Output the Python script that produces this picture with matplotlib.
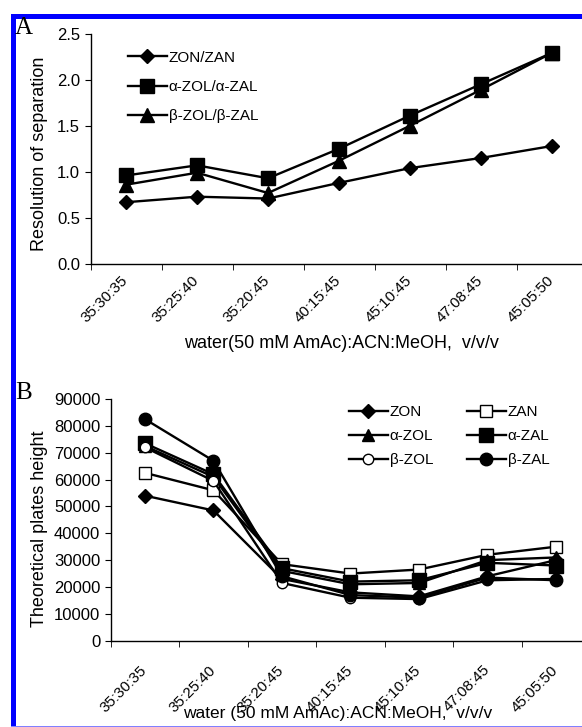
import matplotlib
matplotlib.use("Agg")
import matplotlib.pyplot as plt
from matplotlib.patches import Rectangle
from matplotlib.transforms import ScaledTranslation
import numpy as np

plt.rcParams['font.family'] = ['Liberation Sans', 'DejaVu Sans']

# mobile phase compositions, water(50 mM AmAc):ACN:MeOH
compositions = ["35:30:35", "35:25:40", "35:20:45", "40:15:45",
                "45:10:45", "47:08:45", "45:05:50"]

# panel A - resolution of separation
rs_zon_zan = [0.67, 0.73, 0.71, 0.88, 1.04, 1.15, 1.28]
rs_azol_azal = [0.96, 1.07, 0.93, 1.25, 1.61, 1.95, 2.29]
rs_bzol_bzal = [0.86, 0.99, 0.77, 1.12, 1.50, 1.89, 2.29]

# panel B - theoretical plates
n_zon = [54000, 48500, 23000, 18000, 16500, 24000, 30000]
n_zan = [62500, 56000, 28500, 25000, 26500, 32000, 35000]
n_azol = [72500, 61000, 26000, 21000, 21500, 30000, 31000]
n_azal = [73500, 62000, 27000, 22000, 22500, 29000, 28000]
n_bzol = [72000, 59500, 21500, 16000, 15500, 22500, 23000]
n_bzal = [82500, 67000, 24000, 17000, 16000, 23500, 22500]

W, H = 582, 727
fig = plt.figure(figsize=(W / 100, H / 100), dpi=100)
x = np.arange(len(compositions))


def style_axes(ax, pad, dx):
    ax.spines['top'].set_visible(False)
    ax.spines['right'].set_visible(False)
    ax.spines['left'].set_linewidth(1.0)
    ax.spines['bottom'].set_linewidth(1.0)
    ax.set_xlim(-0.5, len(compositions) - 0.5)
    ax.set_xticks(x)
    ax.set_xticklabels(compositions, rotation=45, ha='right', va='center',
                       rotation_mode='anchor', fontsize=11)
    shift = ScaledTranslation(dx / 72, 0, fig.dpi_scale_trans)
    for lab in ax.get_xticklabels():
        lab.set_transform(lab.get_transform() + shift)
    ax.tick_params(axis='x', which='major', length=0, pad=pad)
    ax.set_xticks(np.arange(-0.5, len(compositions) - 0.5, 1.0), minor=True)
    ax.tick_params(axis='x', which='minor', length=4, direction='out')
    ax.tick_params(axis='y', length=4, direction='out', labelsize=12)


lw = 1.7
# ---- panel A (axis runs past the right edge, as in the cropped original)
axA = fig.add_axes([90.5 / W, 1 - 264 / H, 497 / W, 230.5 / H])
axA.plot(x, rs_zon_zan, color='black', lw=lw, marker='D', ms=7, label='ZON/ZAN')
axA.plot(x, rs_azol_azal, color='black', lw=lw, marker='s', ms=9.5, label='α-ZOL/α-ZAL')
axA.plot(x, rs_bzol_bzal, color='black', lw=lw, marker='^', ms=9.5, label='β-ZOL/β-ZAL')
style_axes(axA, 10.0, -8.5)
axA.set_ylim(0, 2.5)
axA.set_yticks(np.arange(0, 2.51, 0.5))
axA.set_yticklabels([f"{v:.1f}" for v in np.arange(0, 2.51, 0.5)])
axA.set_ylabel("Resolution of separation", fontsize=13)
axA.yaxis.set_label_coords(-0.0855, 0.477)
axA.set_xlabel("water(50 mM AmAc):ACN:MeOH,  v/v/v", fontsize=13)
axA.xaxis.set_label_coords(0.505, -0.308)
axA.legend(loc='upper left', bbox_to_anchor=(128 / W, 1 - 50.7 / H),
           bbox_transform=fig.transFigure, frameon=False, borderpad=0,
           borderaxespad=0, fontsize=11, handlelength=2.55, handletextpad=0.12,
           labelspacing=1.0)

# ---- panel B
axB = fig.add_axes([110.7 / W, 1 - 640.7 / H, 479.5 / W, 241.7 / H])
hB = {}
hB['ZON'], = axB.plot(x, n_zon, color='black', lw=lw, marker='D', ms=7)
hB['ZAN'], = axB.plot(x, n_zan, color='black', lw=lw, marker='s', ms=9, mfc='white')
hB['α-ZOL'], = axB.plot(x, n_azol, color='black', lw=lw, marker='^', ms=9)
hB['α-ZAL'], = axB.plot(x, n_azal, color='black', lw=lw, marker='s', ms=10.5)
hB['β-ZOL'], = axB.plot(x, n_bzol, color='black', lw=lw, marker='o', ms=7.5, mfc='white')
hB['β-ZAL'], = axB.plot(x, n_bzal, color='black', lw=lw, marker='o', ms=9)
style_axes(axB, 19.5, -8.5)
axB.set_ylim(0, 90000)
axB.set_yticks(np.arange(0, 90001, 10000))
axB.set_ylabel("Theoretical plates height", fontsize=13)
axB.yaxis.set_label_coords(-0.131, 0.462)
axB.set_xlabel("water (50 mM AmAc):ACN:MeOH,  v/v/v", fontsize=12.5)
axB.xaxis.set_label_coords(0.474, -0.272)
order = ['ZON', 'α-ZOL', 'β-ZOL', 'ZAN', 'α-ZAL', 'β-ZAL']
axB.legend([hB[k] for k in order], order, loc='upper left',
           bbox_to_anchor=(349 / W, 1 - 405.4 / H), bbox_transform=fig.transFigure,
           frameon=False, ncol=2, borderpad=0, borderaxespad=0, fontsize=11,
           handlelength=2.55, handletextpad=0.12, labelspacing=0.65, columnspacing=2.2)

# panel letters
fig.text(15 / W, 1 - 33.5 / H, "A", fontsize=18, family='Liberation Serif')
fig.text(15 / W, 1 - 399 / H, "B", fontsize=18, family='Liberation Serif')

# blue frame
fig.add_artist(Rectangle((11 / W, 0), 5 / W, 1 - 14 / H, transform=fig.transFigure,
                         color='#0000ff', lw=0))
fig.add_artist(Rectangle((11 / W, 1 - 19 / H), 1 - 11 / W, 5 / H, transform=fig.transFigure,
                         color='#0000ff', lw=0))
fig.add_artist(Rectangle((11 / W, 0), 1 - 11 / W, 1.5 / H, transform=fig.transFigure,
                         color='#8080ff', lw=0))

fig.savefig("out.png", dpi=100)
